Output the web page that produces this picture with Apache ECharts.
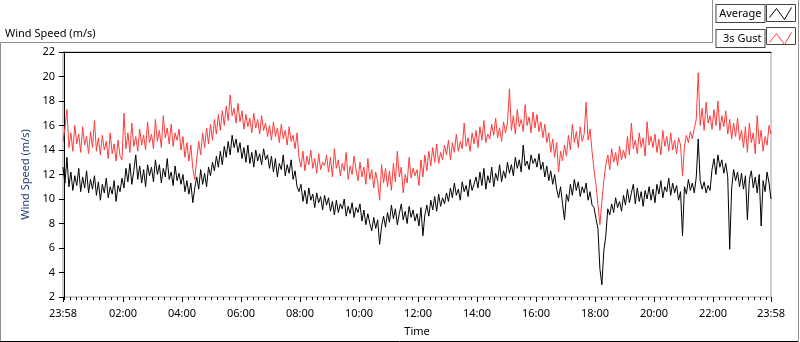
<!DOCTYPE html>
<html>
<head>
<meta charset="utf-8">
<script src="https://cdn.jsdelivr.net/npm/echarts@6/dist/echarts.min.js"></script>
<style>
  html, body { margin: 0; padding: 0; background: #fff; }
  #chart { width: 800px; height: 342px; }
</style>
</head>
<body>
<div id="chart"></div>
<script>
// minutes since midnight of the first day; samples every 4 minutes from 23:58
var startMin = -2;
var stepMin = 4;

var average = [
  12.6, 11.3, 13.4, 11.0, 12.2, 10.7, 11.9, 11.1, 12.5, 10.6, 11.8, 10.9, 12.3, 10.5, 11.6,
  10.8, 11.9, 10.3, 11.4, 9.9, 11.2, 10.5, 11.7, 10.1, 11.0, 10.4, 11.5, 9.8, 11.1, 10.6,
  11.7, 10.9, 12.5, 11.4, 12.9, 11.2, 12.3, 13.6, 11.6, 12.7, 11.3, 12.4, 11.0, 12.8, 11.9,
  12.6, 11.4, 13.2, 12.0, 12.8, 11.3, 12.5, 11.8, 13.3, 11.6, 12.2, 11.1, 12.7, 11.5, 12.1,
  11.2, 12.0, 10.6, 11.5, 10.4, 11.3, 9.7, 10.9, 11.8, 10.8, 12.4, 11.2, 12.1, 11.0, 12.6,
  11.9, 13.0, 12.3, 13.5, 12.6, 13.9, 12.8, 14.3, 13.4, 14.7, 13.6, 15.2, 14.2, 14.9, 13.8,
  14.6, 13.3, 14.2, 13.0, 14.4, 12.9, 13.8, 12.6, 14.0, 13.1, 13.7, 12.8, 14.1, 13.2, 13.6,
  12.5, 13.5, 12.2, 13.3, 11.8, 12.9, 12.4, 13.6, 11.9, 12.8, 12.1, 13.2, 11.6, 12.3, 11.0,
  10.6, 11.2, 9.8, 10.7, 9.6, 10.9, 9.9, 10.4, 9.3, 10.5, 9.7, 10.2, 9.1, 10.3, 9.5,
  10.1, 9.0, 9.8, 8.7, 9.9, 8.9, 9.6, 9.2, 10.0, 8.6, 9.4, 8.8, 9.7, 8.5, 9.3,
  8.9, 9.6, 8.2, 9.1, 7.9, 8.8, 8.0, 7.4, 8.5, 7.6, 8.3, 6.3, 7.8, 8.6, 7.7,
  8.9, 8.1, 9.5, 8.4, 9.2, 7.9, 8.8, 9.6, 8.3, 9.0, 8.0, 9.4, 8.5, 9.1, 8.2,
  8.8, 7.8, 9.3, 7.0, 8.7, 9.5, 8.6, 9.9, 9.1, 10.2, 9.0, 10.4, 9.4, 10.1, 9.6,
  10.5, 9.8, 10.9, 10.1, 11.3, 10.3, 10.8, 9.9, 11.4, 10.6, 11.1, 10.2, 11.6, 10.7, 11.2,
  11.8, 10.9, 12.2, 11.1, 12.5, 10.8, 11.9, 11.3, 12.6, 11.0, 12.1, 11.5, 12.8, 11.4, 12.3,
  11.7, 13.0, 12.1, 12.8, 11.9, 13.4, 12.5, 13.2, 12.2, 14.4, 12.7, 13.1, 12.4, 13.6, 12.9,
  13.3, 12.6, 13.7, 12.4, 13.0, 11.8, 12.7, 11.5, 12.3, 11.2, 12.0, 10.8, 10.1, 11.0, 9.6,
  8.3, 10.4, 9.8, 11.2, 10.3, 11.6, 10.7, 11.4, 10.2, 11.0, 10.5, 11.3, 9.9, 10.6, 9.5,
  9.3, 8.4, 7.6, 4.3, 3.0, 5.8, 7.0, 9.2, 8.7, 9.6, 8.9, 10.1, 9.3, 9.8, 9.0,
  10.3, 9.5, 10.8, 9.7, 10.5, 11.2, 9.6, 10.9, 9.8, 10.6, 9.4, 10.7, 10.0, 11.0, 9.9,
  10.8, 9.7, 11.2, 10.4, 11.5, 10.1, 11.0, 10.6, 11.7, 10.3, 11.3, 10.5, 11.1, 9.9, 10.6,
  7.0, 11.0, 10.4, 11.6, 10.7, 11.3, 10.5, 11.8, 14.9, 11.5, 10.8, 11.4, 10.5, 11.1, 10.7,
  12.4, 13.3, 12.0, 13.6, 12.6, 13.2, 12.1, 12.9, 11.8, 5.9, 10.9, 12.4, 11.5, 12.2, 11.0,
  12.1, 10.8, 11.9, 8.3, 11.6, 12.3, 10.9, 11.8, 10.5, 12.0, 7.8, 11.5, 10.6, 12.2, 11.3,
  10.0
];

var gust = [
  14.7, 15.8, 17.3, 14.2, 15.4, 13.9, 16.0, 14.5, 15.3, 13.8, 15.9, 14.4, 15.1, 13.7, 15.5,
  14.2, 16.4, 13.9, 15.0, 13.6, 15.2, 14.0, 14.7, 13.3, 15.4, 13.7, 14.5, 13.1, 14.8, 13.5,
  13.2, 17.0, 14.1, 15.4, 13.8, 16.2, 14.3, 15.1, 13.9, 15.7, 14.4, 15.2, 14.0, 16.3, 14.6,
  15.3, 14.1, 16.5, 14.7, 15.6, 14.2, 16.8, 15.0, 15.8, 14.5, 16.1, 14.3, 15.4, 14.8, 15.7,
  14.0, 15.1, 13.4, 14.6, 13.1, 14.4, 12.5, 11.6, 13.3, 14.7, 13.6, 15.4, 14.2, 15.8, 14.5,
  16.1, 14.8, 16.5, 15.3, 16.9, 15.6, 17.2, 16.0, 17.6, 16.4, 18.5, 16.8, 17.4, 16.2, 17.8,
  16.3, 17.2, 15.7, 16.9, 15.9, 16.6, 15.4, 17.0, 15.8, 16.5, 15.3, 16.8, 15.6, 16.2, 15.1,
  16.0, 14.8, 16.3, 15.1, 15.8, 14.6, 16.1, 14.9, 15.6, 14.4, 15.9, 14.7, 15.2, 14.1, 15.4,
  13.4, 12.6, 13.9, 12.3, 13.5, 12.8, 14.0, 12.5, 13.3, 12.1, 13.7, 12.4, 13.0, 12.7, 13.6,
  12.2, 13.4, 11.8, 14.1, 12.5, 13.2, 11.9, 12.9, 12.3, 13.8, 11.6, 12.7, 12.0, 13.5, 12.4,
  11.5, 13.0, 11.8, 12.6, 11.2, 13.3, 11.6, 12.4, 10.9, 12.2, 11.4, 9.9, 12.8, 11.3, 12.5,
  11.0, 12.3, 10.7, 12.9, 11.4, 13.9, 11.8, 12.6, 10.5, 12.0, 11.3, 13.4, 11.7, 12.5, 11.9,
  12.4, 11.1, 13.2, 11.8, 13.6, 12.3, 13.9, 12.7, 14.2, 13.0, 14.5, 12.9, 13.8, 13.2, 14.4,
  13.6, 14.8, 13.2, 14.6, 13.8, 15.3, 13.9, 14.7, 14.1, 16.2, 14.3, 15.0, 13.9, 15.4, 14.5,
  15.6, 14.2, 15.9, 14.8, 16.4, 14.6, 15.3, 14.9, 16.1, 15.2, 16.6, 15.0, 15.8, 14.7, 16.3,
  15.4, 16.2, 19.0, 15.6, 16.8, 15.3, 17.3, 15.9, 16.5, 15.5, 17.7, 16.0, 16.7, 15.4, 17.1,
  15.8, 16.9, 15.5, 16.3, 15.0, 16.1, 14.6, 15.4, 13.8, 14.9, 13.4, 14.6, 12.2, 13.9, 13.1,
  14.4, 13.5, 15.2, 14.0, 16.1, 14.6, 15.5, 14.2, 15.9, 14.7, 15.3, 17.9, 14.8, 15.7, 13.9,
  12.4, 11.2, 9.6, 7.9, 9.8, 11.5, 12.8, 13.6, 12.4, 14.1, 13.0, 13.8, 12.7, 14.3, 13.2,
  14.0, 13.3, 15.1, 13.6, 16.2, 14.1, 14.8, 13.7, 15.4, 14.2, 15.0, 13.5, 16.3, 14.4, 15.1,
  14.2, 15.3, 13.8, 14.9, 13.6, 15.6, 14.3, 15.1, 13.9, 15.4, 14.0, 14.8, 13.7, 15.0, 14.4,
  11.9, 14.3, 15.2, 14.6, 15.5, 14.9, 15.8, 16.5, 20.3, 16.0, 17.4, 15.6, 17.9, 16.2, 16.8,
  15.7, 17.3, 16.0, 18.0, 15.6, 16.8, 15.9, 17.2, 15.3, 16.5, 14.9, 16.2, 15.1, 16.6, 14.8,
  15.6, 14.2, 15.9, 13.8, 16.2, 14.6, 15.4, 13.7, 16.8, 14.5, 15.6, 13.9, 15.1, 14.4, 16.0,
  15.3
];

var tickValues = [-2, 120, 240, 360, 480, 600, 720, 840, 960, 1080, 1200, 1320, 1438];
var tickLabels = ['23:58', '02:00', '04:00', '06:00', '08:00', '10:00', '12:00',
                  '14:00', '16:00', '18:00', '20:00', '22:00', '23:58'];

var minorTicks = [];
for (var m = 0; m <= 1436; m += 12) minorTicks.push(m);

function toPairs(arr) {
  return arr.map(function (v, i) { return [startMin + i * stepMin, v]; });
}

var font = 'Noto Sans';
var zigzag = 'path://M0,10 L7,1 L15,12 L22,0';
var chart = echarts.init(document.getElementById('chart'));

chart.setOption({
  backgroundColor: '#ffffff',
  animation: false,
  title: {
    text: 'Wind Speed (m/s)',
    left: 0,
    top: 23,
    textStyle: { fontFamily: font, fontSize: 11, fontWeight: 'normal', color: '#000' }
  },
  legend: {
    orient: 'vertical',
    align: 'right',
    right: 8,
    top: 4,
    padding: 0,
    itemWidth: 22,
    itemHeight: 17,
    itemGap: 6,
    selectedMode: false,
    textStyle: {
      fontFamily: font, fontSize: 11, color: '#000',
      backgroundColor: '#fff', borderColor: '#444', borderWidth: 1,
      width: 42, height: 15, lineHeight: 15, padding: [1, 3, 1, 3]
    },
    data: [
      { name: 'Average', icon: zigzag,
        itemStyle: { color: 'transparent', borderColor: '#000', borderWidth: 1 } },
      { name: '3s Gust', icon: zigzag,
        itemStyle: { color: 'transparent', borderColor: '#ff3b3b', borderWidth: 1 } }
    ]
  },
  grid: {
    left: 63, right: 29, top: 52, bottom: 40,
    show: true, borderColor: '#a0a0a0', borderWidth: 1, backgroundColor: '#fff'
  },
  xAxis: [
    {
      type: 'value', min: -2, max: 1438,
      name: 'Time', nameLocation: 'middle', nameGap: 29,
      nameTextStyle: { fontFamily: font, fontSize: 11, color: '#000' },
      axisLine: { show: false },
      axisTick: { show: true, length: 5, customValues: tickValues, lineStyle: { color: '#000' } },
      axisLabel: {
        customValues: tickValues, margin: 11,
        fontFamily: font, fontSize: 11, color: '#000',
        formatter: function (v) { return tickLabels[tickValues.indexOf(v)]; }
      },
      splitLine: { show: false }
    },
    {
      type: 'value', min: -2, max: 1438, position: 'bottom',
      axisLine: { show: false },
      axisTick: { show: true, length: 3, customValues: minorTicks, lineStyle: { color: '#000' } },
      axisLabel: { show: false },
      splitLine: { show: false }
    },
    {
      type: 'value', min: -2, max: 1438, position: 'top',
      axisLine: { show: true, lineStyle: { color: '#000', width: 1 } },
      axisTick: { show: false },
      axisLabel: { show: false },
      splitLine: { show: false }
    }
  ],
  yAxis: {
    type: 'value', min: 2, max: 22, interval: 2,
    name: 'Wind Speed (m/s)', nameLocation: 'middle', nameGap: 25,
    nameTextStyle: { fontFamily: font, fontSize: 11, color: '#1f3c78' },
    axisLine: { show: true, lineStyle: { color: '#000', width: 1 } },
    axisTick: { show: true, length: 5, lineStyle: { color: '#000' } },
    axisLabel: { margin: 8, fontFamily: font, fontSize: 11, color: '#000' },
    splitLine: { show: false }
  },
  graphic: [
    { type: 'polyline', silent: true, z: -1,
      shape: { points: [[712.5, 0], [712.5, 42.5], [0.5, 42.5], [0.5, 341.5]] },
      style: { stroke: '#909090', lineWidth: 1, fill: null } },
    { type: 'line', silent: true, z: -1,
      shape: { x1: 0, y1: 341.5, x2: 799, y2: 341.5 },
      style: { stroke: '#000', lineWidth: 1 } },
    { type: 'line', silent: true, z: -1,
      shape: { x1: 798.5, y1: 0, x2: 798.5, y2: 342 },
      style: { stroke: '#909090', lineWidth: 1 } },
    { type: 'rect', silent: true, z: -1,
      shape: { x: 766.5, y: 4.5, width: 29, height: 17 },
      style: { stroke: '#444', lineWidth: 1, fill: '#fff' } },
    { type: 'rect', silent: true, z: -1,
      shape: { x: 766.5, y: 27.5, width: 29, height: 17 },
      style: { stroke: '#444', lineWidth: 1, fill: '#fff' } }
  ],
  series: [
    {
      name: '3s Gust', type: 'line', data: toPairs(gust),
      showSymbol: false, symbol: 'none',
      lineStyle: { color: '#ff3b3b', width: 1 }, itemStyle: { color: '#ff3b3b' }, z: 2
    },
    {
      name: 'Average', type: 'line', data: toPairs(average),
      showSymbol: false, symbol: 'none',
      lineStyle: { color: '#000', width: 1 }, itemStyle: { color: '#000' }, z: 3
    }
  ]
});
</script>
</body>
</html>
